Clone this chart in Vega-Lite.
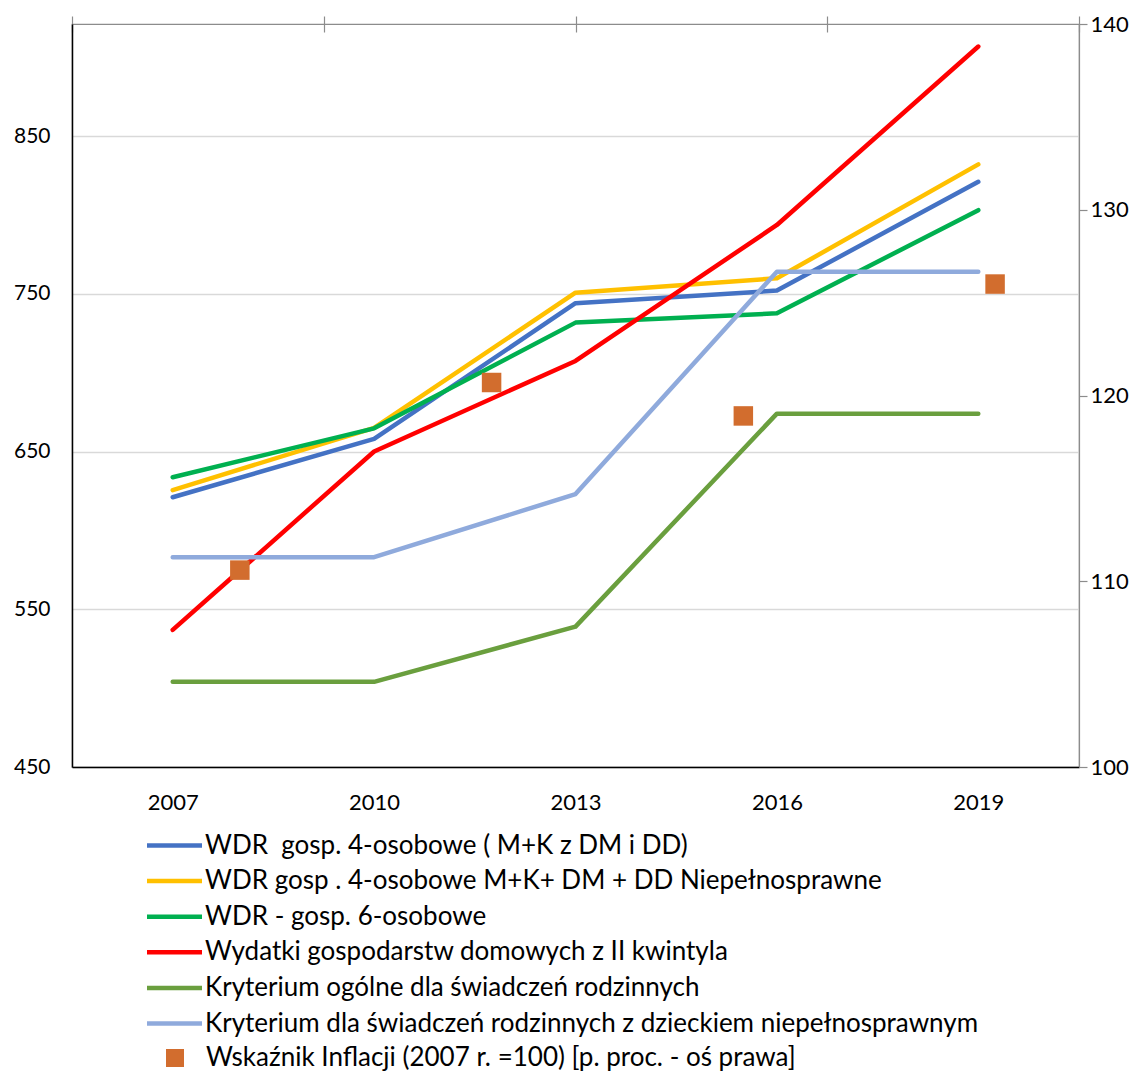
{
  "$schema": "https://vega.github.io/schema/vega-lite/v6.json",
  "width": 1007,
  "height": 743,
  "autosize": {"type": "none"},
  "padding": {"left": 72, "top": 24, "right": 69, "bottom": 306},
  "background": "white",
  "config": {
    "font": "Lato",
    "view": {"stroke": "#8c8c8c", "strokeWidth": 1.2}
  },
  "datasets": {
    "lines": [
      {"series": "WDR\u00a0 gosp. 4-osobowe ( M+K z DM i DD)", "year": "2007", "value": 621},
      {"series": "WDR\u00a0 gosp. 4-osobowe ( M+K z DM i DD)", "year": "2010", "value": 658},
      {"series": "WDR\u00a0 gosp. 4-osobowe ( M+K z DM i DD)", "year": "2013", "value": 744},
      {"series": "WDR\u00a0 gosp. 4-osobowe ( M+K z DM i DD)", "year": "2016", "value": 752},
      {"series": "WDR\u00a0 gosp. 4-osobowe ( M+K z DM i DD)", "year": "2019", "value": 821},
      {"series": "WDR gosp . 4-osobowe M+K+ DM + DD Niepełnosprawne", "year": "2007", "value": 625.5},
      {"series": "WDR gosp . 4-osobowe M+K+ DM + DD Niepełnosprawne", "year": "2010", "value": 665},
      {"series": "WDR gosp . 4-osobowe M+K+ DM + DD Niepełnosprawne", "year": "2013", "value": 750.7},
      {"series": "WDR gosp . 4-osobowe M+K+ DM + DD Niepełnosprawne", "year": "2016", "value": 759.8},
      {"series": "WDR gosp . 4-osobowe M+K+ DM + DD Niepełnosprawne", "year": "2019", "value": 832},
      {"series": "WDR - gosp. 6-osobowe", "year": "2007", "value": 633.7},
      {"series": "WDR - gosp. 6-osobowe", "year": "2010", "value": 664.7},
      {"series": "WDR - gosp. 6-osobowe", "year": "2013", "value": 731.7},
      {"series": "WDR - gosp. 6-osobowe", "year": "2016", "value": 737.6},
      {"series": "WDR - gosp. 6-osobowe", "year": "2019", "value": 803},
      {"series": "Wydatki gospodarstw domowych z II kwintyla", "year": "2007", "value": 536.9},
      {"series": "Wydatki gospodarstw domowych z II kwintyla", "year": "2010", "value": 650},
      {"series": "Wydatki gospodarstw domowych z II kwintyla", "year": "2013", "value": 707.4},
      {"series": "Wydatki gospodarstw domowych z II kwintyla", "year": "2016", "value": 793.6},
      {"series": "Wydatki gospodarstw domowych z II kwintyla", "year": "2019", "value": 906.7},
      {"series": "Kryterium ogólne dla świadczeń rodzinnych", "year": "2007", "value": 504},
      {"series": "Kryterium ogólne dla świadczeń rodzinnych", "year": "2010", "value": 504},
      {"series": "Kryterium ogólne dla świadczeń rodzinnych", "year": "2013", "value": 539},
      {"series": "Kryterium ogólne dla świadczeń rodzinnych", "year": "2016", "value": 674},
      {"series": "Kryterium ogólne dla świadczeń rodzinnych", "year": "2019", "value": 674},
      {"series": "Kryterium dla świadczeń rodzinnych z dzieckiem niepełnosprawnym", "year": "2007", "value": 583},
      {"series": "Kryterium dla świadczeń rodzinnych z dzieckiem niepełnosprawnym", "year": "2010", "value": 583},
      {"series": "Kryterium dla świadczeń rodzinnych z dzieckiem niepełnosprawnym", "year": "2013", "value": 623},
      {"series": "Kryterium dla świadczeń rodzinnych z dzieckiem niepełnosprawnym", "year": "2016", "value": 764},
      {"series": "Kryterium dla świadczeń rodzinnych z dzieckiem niepełnosprawnym", "year": "2019", "value": 764}
    ],
    "infl": [
      {"series": "Wskaźnik Inflacji (2007 r. =100) [p. proc. - oś prawa]", "year": 2009, "value": 110.6},
      {"series": "Wskaźnik Inflacji (2007 r. =100) [p. proc. - oś prawa]", "year": 2012, "value": 120.7},
      {"series": "Wskaźnik Inflacji (2007 r. =100) [p. proc. - oś prawa]", "year": 2015, "value": 118.9},
      {"series": "Wskaźnik Inflacji (2007 r. =100) [p. proc. - oś prawa]", "year": 2018, "value": 126.0}
    ]
  },
  "layer": [
    {
      "data": {"name": "lines"},
      "mark": {"type": "line", "strokeCap": "round", "strokeJoin": "round"},
      "encoding": {
        "x": {
          "field": "year", "type": "ordinal",
          "scale": {"type": "point", "padding": 0.5},
          "axis": {"orient": "bottom", "title": null, "labelAngle": 0, "ticks": false, "tickSize": 0,
                   "domainColor": "black", "domainWidth": 1.5, "labelFontSize": 22, "labelPadding": 25,
                   "labelColor": "black", "grid": false}
        },
        "y": {
          "field": "value", "type": "quantitative",
          "scale": {"domain": [450, 921], "nice": false, "zero": false},
          "axis": {"orient": "left", "title": null, "values": [450, 550, 650, 750, 850], "ticks": false,
                   "tickSize": 0, "domainColor": "black", "domainWidth": 1.5, "grid": true,
                   "gridColor": "#d9d9d9", "gridWidth": 1.5, "labelFontSize": 21, "labelPadding": 22,
                   "labelColor": "black"}
        },
        "color": {
          "field": "series", "type": "nominal",
          "scale": {
            "domain": [
              "WDR\u00a0 gosp. 4-osobowe ( M+K z DM i DD)",
              "WDR gosp . 4-osobowe M+K+ DM + DD Niepełnosprawne",
              "WDR - gosp. 6-osobowe",
              "Wydatki gospodarstw domowych z II kwintyla",
              "Kryterium ogólne dla świadczeń rodzinnych",
              "Kryterium dla świadczeń rodzinnych z dzieckiem niepełnosprawnym"
            ],
            "range": ["#4472C4", "#FFC000", "#00B050", "#FF0000", "#6A9F3E", "#8FAADC"]
          },
          "legend": {
            "orient": "none", "legendX": 89, "legendY": 808, "title": null,
            "symbolType": "M-2.5,0H2.5", "symbolSize": 484, "symbolStrokeWidth": 4,
            "labelFontSize": 26, "labelOffset": 17, "rowPadding": 8.6, "labelLimit": 1000,
            "labelColor": "black", "direction": "vertical"
          }
        },
        "strokeWidth": {
          "field": "series", "type": "nominal",
          "scale": {
            "domain": [
              "WDR\u00a0 gosp. 4-osobowe ( M+K z DM i DD)",
              "WDR gosp . 4-osobowe M+K+ DM + DD Niepełnosprawne",
              "WDR - gosp. 6-osobowe",
              "Wydatki gospodarstw domowych z II kwintyla",
              "Kryterium ogólne dla świadczeń rodzinnych",
              "Kryterium dla świadczeń rodzinnych z dzieckiem niepełnosprawnym"
            ],
            "range": [4.5, 4.5, 4.5, 4.5, 4.5, 3.4]
          },
          "legend": null
        }
      }
    },
    {
      "data": {"name": "infl"},
      "mark": {"type": "square", "size": 380, "opacity": 1, "filled": true},
      "encoding": {
        "x": {
          "field": "year", "type": "quantitative",
          "scale": {"domain": [2007, 2019], "nice": false, "zero": false},
          "axis": {"orient": "top", "title": null, "labels": false, "domain": false,
                   "values": [2007, 2010, 2013, 2016, 2019], "tickSize": 16, "offset": -8,
                   "tickColor": "#8c8c8c", "tickWidth": 1.2, "grid": false}
        },
        "y": {
          "field": "value", "type": "quantitative",
          "scale": {"domain": [100, 140], "nice": false, "zero": false},
          "axis": {"orient": "right", "title": null, "values": [100, 110, 120, 130, 140],
                   "domainColor": "#8c8c8c", "domainWidth": 1.2, "tickColor": "#8c8c8c", "tickWidth": 1.2,
                   "tickSize": 8, "labelFontSize": 22, "labelPadding": 3, "grid": false,
                   "labelColor": "black"}
        },
        "color": {
          "field": "series", "type": "nominal",
          "scale": {"range": ["#D26D2E"]},
          "legend": {
            "orient": "none", "legendX": 90, "legendY": 1021, "title": null,
            "symbolType": "square", "symbolSize": 324, "symbolOpacity": 1,
            "labelFontSize": 26, "labelOffset": 18, "labelLimit": 1000, "labelColor": "black"
          }
        }
      }
    }
  ],
  "resolve": {"scale": {"x": "independent", "y": "independent", "color": "independent", "strokeWidth": "independent"}}
}
